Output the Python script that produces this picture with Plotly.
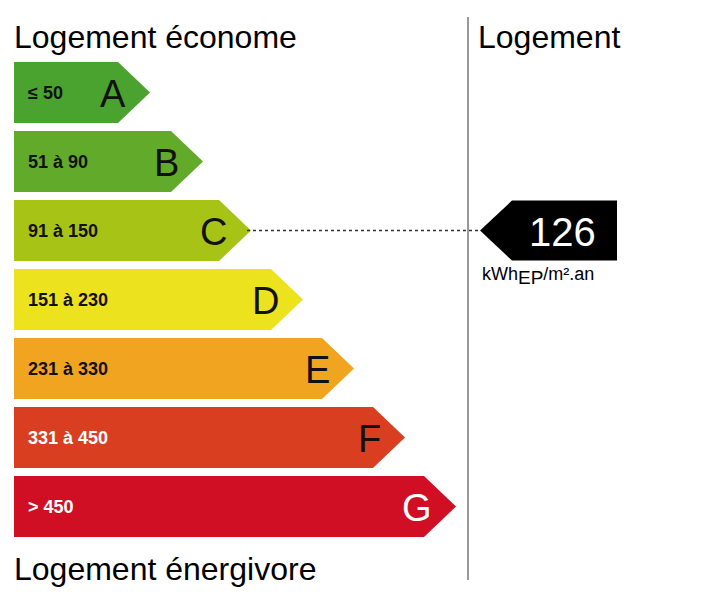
import plotly.graph_objects as go

classes = ["A", "B", "C", "D", "E", "F", "G"]
ranges = ["≤ 50", "51 à 90", "91 à 150", "151 à 230", "231 à 330", "331 à 450", "> 450"]
tips = [150, 203, 251, 303, 354, 405, 456]
colors = ["#4aa22f", "#62aa2a", "#a7c316", "#ece21d", "#f1a41f", "#da3e21", "#d10f24"]
letter_colors = ["#111", "#111", "#111", "#111", "#111", "#111", "white"]
range_colors = ["#111", "#111", "#111", "#111", "#111", "white", "white"]
value = 126
value_class = "C"
unit = "kWh<sub><span style='font-size:19px'>EP</span></sub>/m².an"

FONT = "Liberation Sans, Arial, sans-serif"
x0, top, h, gap, depth = 14, 62, 61, 8, 32

fig = go.Figure()
for i, c in enumerate(classes):
    y1 = top + i * (h + gap)
    y2 = y1 + h
    ym = (y1 + y2) / 2
    tip = tips[i]
    fig.add_trace(go.Scatter(
        x=[x0, tip - depth, tip, tip - depth, x0, x0],
        y=[y1, y1, ym, y2, y2, y1],
        fill="toself", fillcolor=colors[i], line=dict(width=0),
        mode="lines", hoverinfo="skip"))
    fig.add_annotation(x=x0 + 12, y=ym, text="<b>%s</b>" % ranges[i], showarrow=False,
                       xanchor="left", font=dict(family=FONT, size=18, color=range_colors[i]))
    fig.add_annotation(x=tip - 22, y=ym + 1, text=c, showarrow=False, xanchor="right",
                       font=dict(family=FONT, size=38, color=letter_colors[i]))

# indicator
k = classes.index(value_class)
ym = top + k * (h + gap) + h / 2
itip, ileft, iright = 480, 512, 617
fig.add_trace(go.Scatter(x=[tips[k] - 4, itip], y=[ym, ym], mode="lines",
                         line=dict(color="#333", width=1.5, dash="dot"), hoverinfo="skip"))
fig.add_trace(go.Scatter(
    x=[itip, ileft, iright, iright, ileft, itip],
    y=[ym, ym - 30, ym - 30, ym + 30, ym + 30, ym],
    fill="toself", fillcolor="black", line=dict(width=0), mode="lines", hoverinfo="skip"))
fig.add_annotation(x=562, y=ym + 1, text=str(value), showarrow=False,
                   font=dict(family=FONT, size=40, color="white"))
fig.add_annotation(x=480, y=ym + 45, text=unit, showarrow=False, xanchor="left",
                   font=dict(family=FONT, size=18, color="black"))

fig.add_shape(type="line", x0=468, x1=468, y0=17, y1=580, line=dict(color="#777", width=1.5))
fig.add_annotation(x=12, y=37, text="Logement économe", showarrow=False, xanchor="left",
                   font=dict(family=FONT, size=32, color="black"))
fig.add_annotation(x=476, y=37, text="Logement", showarrow=False, xanchor="left",
                   font=dict(family=FONT, size=32, color="black"))
fig.add_annotation(x=12, y=569, text="Logement énergivore", showarrow=False, xanchor="left",
                   font=dict(family=FONT, size=32, color="black"))

# page places the plot 8px in from the corner; shift ranges to compensate
fig.update_layout(width=712, height=605, margin=dict(l=0, r=0, t=0, b=0),
                  plot_bgcolor="white", paper_bgcolor="white", showlegend=False,
                  xaxis=dict(range=[8, 720], visible=False, fixedrange=True),
                  yaxis=dict(range=[613, 8], visible=False, fixedrange=True))
fig.write_html("out.html")
